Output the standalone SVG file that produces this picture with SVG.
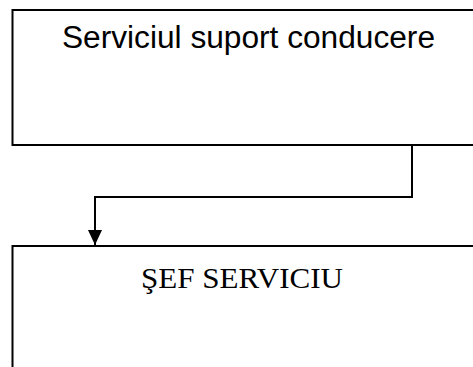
<svg xmlns="http://www.w3.org/2000/svg" width="473" height="367" viewBox="0 0 473 367">
<defs>
<style>
.box{fill:#fff;stroke:#000;stroke-width:2}
.conn{fill:none;stroke:#000;stroke-width:2}
</style>
<marker id="arr" markerWidth="15" markerHeight="14" refX="15" refY="7" orient="auto" markerUnits="userSpaceOnUse" viewBox="0 0 15 14">
<path d="M0,0 L15,7 L0,14 Z" fill="#000"/>
</marker>
</defs>
<rect width="473" height="367" fill="#fff"/>
<g id="node-top">
<rect class="box" x="12.5" y="10" width="470" height="135"/>
<text x="62" y="48" font-family="Liberation Sans, Arial, sans-serif" font-size="31" textLength="373" lengthAdjust="spacingAndGlyphs">Serviciul suport conducere</text>
</g>
<g id="node-bottom">
<rect class="box" x="12.5" y="246" width="470" height="140"/>
<text x="141" y="288" font-family="Liberation Serif, Times New Roman, serif" font-size="30" textLength="202" lengthAdjust="spacingAndGlyphs">ŞEF SERVICIU</text>
</g>
<g id="connectors">
<polyline class="conn" points="412,145 412,197 95,197 95,245" marker-end="url(#arr)"/>
</g>
</svg>
